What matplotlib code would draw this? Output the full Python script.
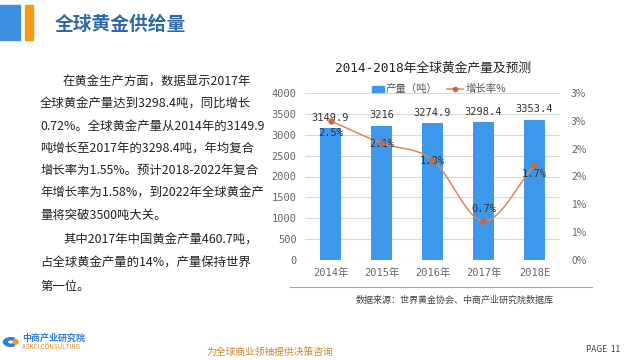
import numpy as np
import matplotlib.pyplot as plt
from matplotlib.patches import Rectangle, Wedge

plt.rcParams['font.family'] = ['Noto Sans CJK SC', 'DejaVu Sans']

# data
years = ['2014年', '2015年', '2016年', '2017年', '2018E']
output_t = [3149.9, 3216, 3274.9, 3298.4, 3353.4]
bar_labels = ['3149.9', '3216', '3274.9', '3298.4', '3353.4']
growth = [2.5, 2.1, 1.8, 0.7, 1.7]
growth_labels = ['2.5%', '2.1%', '1.8%', '0.7%', '1.7%']
left_ticks = [0, 500, 1000, 1500, 2000, 2500, 3000, 3500, 4000]
right_ticks = [0, 0.5, 1.0, 1.5, 2.0, 2.5, 3.0]

para = [
    '在黄金生产方面，数据显示2017年',
    '全球黄金产量达到3298.4吨，同比增长',
    '0.72%。全球黄金产量从2014年的3149.9',
    '吨增长至2017年的3298.4吨，年均复合',
    '增长率为1.55%。预计2018-2022年复合',
    '年增长率为1.58%，到2022年全球黄金产',
    '量将突破3500吨大关。',
    '其中2017年中国黄金产量460.7吨，',
    '占全球黄金产量的14%，产量保持世界',
    '第一位。',
]
indent = [True, False, False, False, False, False, False, True, False, False]

W, H = 625, 360
fig = plt.figure(figsize=(W / 100, H / 100), dpi=100)

def px(x, y):
    return x / W, 1 - y / H

# header
fig.patches.append(Rectangle(px(0, 40), 20 / W, 35 / H, transform=fig.transFigure,
                             color='#3f8fe0'))
fig.patches.append(Rectangle(px(25, 40), 8 / W, 35 / H, transform=fig.transFigure,
                             color='#f59b12'))
fig.text(*px(55, 25), '全球黄金供给量', fontsize=13.5, color='#2f6aa6',
         va='center', ha='left', weight='bold')

# paragraph
ys = [82, 104, 126, 148, 170, 193, 216, 240, 263, 286]
for line, ind, y in zip(para, indent, ys):
    fig.text(*px(63 if ind else 40, y), line, fontsize=8.9, color='#222222',
             va='center', ha='left')

# chart
ax = fig.add_axes([305 / W, 100 / H, 255 / W, 167 / H])
x = np.arange(len(years))
ax.bar(x, output_t, width=0.43, color='#3d97ea', zorder=2)
ax.set_xlim(-0.5, 4.5)
ax.set_ylim(0, 4000)
ax.set_yticks(left_ticks)
ax.set_yticklabels([str(t) for t in left_ticks])
ax.yaxis.grid(True, color='#d9d9d9', lw=0.8, zorder=0)
ax.set_xticks(x)
ax.set_xticklabels(years)
for s in ax.spines.values():
    s.set_visible(False)
ax.tick_params(axis='both', length=0, labelsize=7.5, labelcolor='#666666', pad=6)
for lab in ax.get_xticklabels() + ax.get_yticklabels():
    lab.set_family(['DejaVu Sans Mono', 'Noto Sans CJK SC'])

for xi, v, lab in zip(x, output_t, bar_labels):
    ax.annotate(lab, (xi, v), xytext=(0, 4), textcoords='offset points',
                ha='center', va='bottom', fontsize=7.5, color='#333333',
                family=['DejaVu Sans Mono', 'Noto Sans CJK SC'])

ax2 = ax.twinx()
ax2.set_ylim(0, 3)
ax2.set_yticks(right_ticks)
ax2.set_yticklabels([f'{int(t + 0.5)}%' for t in right_ticks])
ax2.tick_params(axis='y', length=0, labelsize=7.5, labelcolor='#666666', pad=8)
for s in ax2.spines.values():
    s.set_visible(False)

# smoothed line (Catmull-Rom through the points)
g = np.array(growth)
pts = np.column_stack([x, g])
ext = np.vstack([2 * pts[0] - pts[1], pts, 2 * pts[-1] - pts[-2]])
curve = []
for i in range(1, len(ext) - 2):
    p0, p1, p2, p3 = ext[i - 1], ext[i], ext[i + 1], ext[i + 2]
    t = np.linspace(0, 1, 30)[:, None]
    c = 0.5 * (2 * p1 + (-p0 + p2) * t + (2 * p0 - 5 * p1 + 4 * p2 - p3) * t ** 2
               + (-p0 + 3 * p1 - 3 * p2 + p3) * t ** 3)
    curve.append(c)
curve = np.vstack(curve)
ax2.plot(curve[:, 0], curve[:, 1], color='#e0865a', lw=1.1, zorder=3)
ax2.plot(x, g, 'o', color='#c9674a', ms=3.5, zorder=4)

offs = [(0, -9), (0, -1), (0, -1), (0, 9), (0, -6)]
for xi, v, lab, (dx, dy) in zip(x, g, growth_labels, offs):
    ax2.annotate(lab, (xi, v), xytext=(dx, dy), textcoords='offset points',
                 ha='center', va='center', fontsize=7.5, color='#333333',
                 family=['DejaVu Sans Mono', 'Noto Sans CJK SC'])

# chart title & legend
fig.text(*px(433, 68), '2014-2018年全球黄金产量及预测', fontsize=9.2, color='#222222',
         ha='center', va='center', family=['DejaVu Sans Mono', 'Noto Sans CJK SC'])
fig.patches.append(Rectangle(px(372, 92), 12 / W, 6 / H, transform=fig.transFigure,
                             color='#3d97ea'))
fig.text(*px(386, 89), '产量（吨）', fontsize=7.5, color='#595959', va='center')
fig.lines.append(plt.Line2D([447 / W, 463 / W], [1 - 89 / H] * 2,
                            transform=fig.transFigure, color='#e0865a', lw=1.1))
fig.lines.append(plt.Line2D([455 / W], [1 - 89 / H], marker='o', ms=3,
                            transform=fig.transFigure, color='#c9674a'))
fig.text(*px(466, 89), '增长率%', fontsize=7.5, color='#595959', va='center')

# frame line and source
fig.lines.append(plt.Line2D([290 / W, 592 / W], [1 - 287 / H] * 2,
                            transform=fig.transFigure, color='#a6a6a6', lw=0.8))
fig.text(*px(455, 300), '数据来源：世界黄金协会、中商产业研究院数据库', fontsize=6.5,
         color='#404040', ha='center', va='center')

# footer
fig.patches.append(Wedge(px(11, 342), 0.012, 60, 300, width=0.006,
                         transform=fig.transFigure, color='#2f7fd0'))
fig.patches.append(Wedge(px(13, 342), 0.008, -60, 60,
                         transform=fig.transFigure, color='#f0962a'))
fig.text(*px(22, 338), '中商产业研究院', fontsize=6.5, color='#2f7fd0',
         va='center', weight='bold')
fig.text(*px(22, 347), 'ASKCI CONSULTING', fontsize=4.5, color='#e08a2a', va='center')
fig.text(*px(270, 352), '为全球商业领袖提供决策咨询', fontsize=7, color='#c8862a',
         ha='center', va='center', style='italic')
fig.text(*px(603, 349), 'PAGE  11', fontsize=6, color='#404040',
         ha='center', va='center')

fig.savefig('out.png', dpi=100)
